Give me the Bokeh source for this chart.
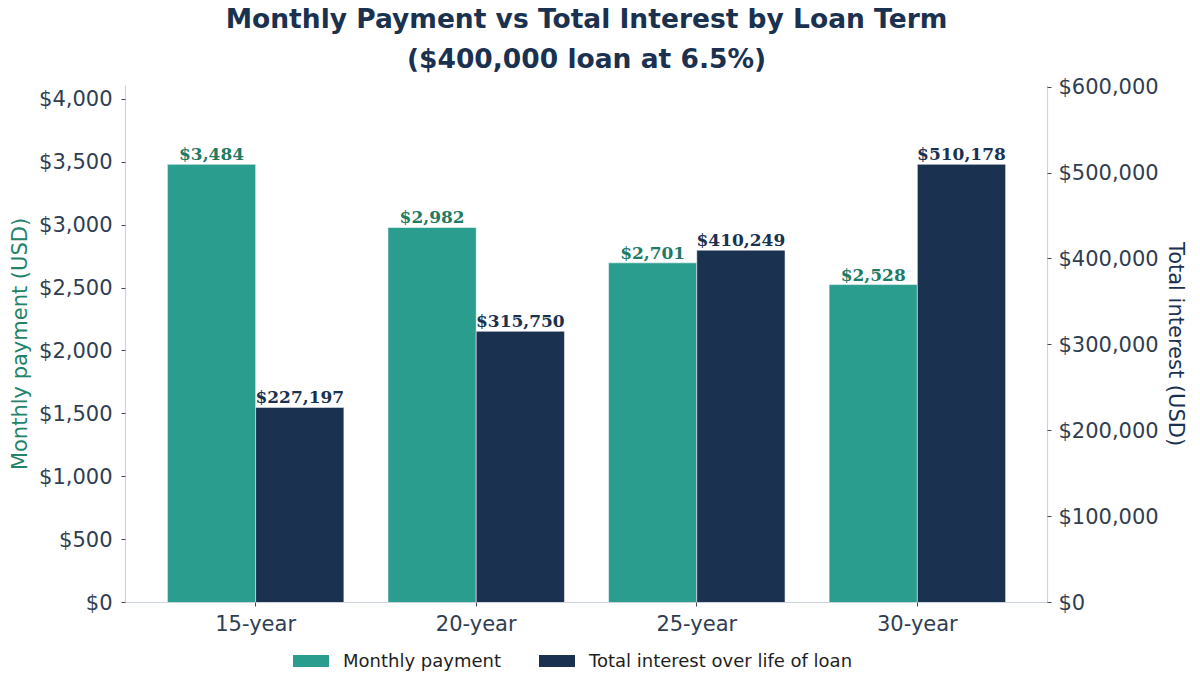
from bokeh.core.properties import value
from bokeh.embed import file_html
from bokeh.layouts import column
from bokeh.models import (ColumnDataSource, Div, FixedTicker, LinearAxis,
                          NumeralTickFormatter, Range1d, SingleIntervalTicker, Title)
from bokeh.plotting import figure
from bokeh.resources import INLINE
from bokeh.transform import dodge

# data
terms = ["15-year", "20-year", "25-year", "30-year"]
monthly_payment = [3484, 2982, 2701, 2528]
total_interest = [227197, 315750, 410249, 510178]
series_names = ["Monthly payment", "Total interest over life of loan"]

TEAL = "#2a9d8f"
NAVY = "#1b3150"
TEAL_TEXT = "#1f7b64"
TICK_TEXT = "#2f3e52"
SPINE = "#cdd3dc"

xs = list(range(len(terms)))
source = ColumnDataSource(data=dict(
    x=xs,
    monthly=monthly_payment,
    interest=total_interest,
    monthly_label=["${:,}".format(v) for v in monthly_payment],
    interest_label=["${:,}".format(v) for v in total_interest],
))

p = figure(frame_width=922, frame_height=517, output_backend="svg", toolbar_location=None,
           x_range=Range1d(-0.59, len(terms) - 1 + 0.59),
           y_range=Range1d(0, max(monthly_payment) * 1.18),
           min_border_left=125, min_border_right=137, min_border_top=84, min_border_bottom=10,
           y_axis_location=None)
p.extra_y_ranges = {"interest": Range1d(0, max(total_interest) * 1.18)}
p.outline_line_color = None
p.xgrid.visible = False
p.ygrid.visible = False

# two title lines; the one added later sits nearer the plot
p.title.text = "Monthly Payment vs Total Interest by Loan Term"
p.title.align = "center"
p.title.vertical_align = "bottom"
p.title.text_font = "DejaVu Sans"
p.title.text_font_size = "26.5px"
p.title.text_line_height = 1.0
p.title.text_color = "#1a3150"
p.title.text_font_style = "bold"
p.title.standoff = 0
p.add_layout(Title(text="($400,000 loan at 6.5%)", align="center", vertical_align="top",
                   text_font="DejaVu Sans", text_font_size="26.5px", text_line_height=1.0,
                   text_color="#1a3150", text_font_style="bold", standoff=19), "above")

r1 = p.vbar(x=dodge("x", -0.2), top="monthly", width=0.4, source=source,
            fill_color=TEAL, line_color="white", line_width=0.5)
r2 = p.vbar(x=dodge("x", 0.2), top="interest", width=0.4, source=source,
            y_range_name="interest", fill_color=NAVY, line_color="white", line_width=0.5)

p.text(x=dodge("x", -0.2), y="monthly", text="monthly_label", source=source,
       text_align="center", text_baseline="bottom", y_offset=0,
       text_font=value("DejaVu Serif"), text_font_style="bold",
       text_font_size="17px", text_color=TEAL_TEXT)
p.text(x=dodge("x", 0.2), y="interest", text="interest_label", source=source,
       y_range_name="interest", text_align="center", text_baseline="bottom", y_offset=0,
       text_font=value("DejaVu Serif"), text_font_style="bold",
       text_font_size="17px", text_color=NAVY)


def style_axis(ax):
    ax.axis_line_color = SPINE
    ax.axis_line_width = 1.2
    ax.major_tick_line_color = "#3d4b5c"
    ax.major_tick_in = 0
    ax.major_tick_out = 4
    ax.minor_tick_line_color = None
    ax.major_label_text_font = "DejaVu Sans"
    ax.major_label_text_font_size = "21px"
    ax.major_label_text_color = TICK_TEXT
    ax.major_label_standoff = 7
    ax.axis_label_text_font = "DejaVu Sans"
    ax.axis_label_text_font_size = "21px"
    ax.axis_label_text_font_style = "normal"
    ax.axis_label_standoff = 4


left = LinearAxis(axis_label="Monthly payment (USD)",
                  ticker=SingleIntervalTicker(interval=500),
                  formatter=NumeralTickFormatter(format="$0,0"))
style_axis(left)
left.major_label_standoff = 9
left.axis_label_text_color = "#23836a"
p.add_layout(left, "left")

right = LinearAxis(axis_label="Total interest (USD)", y_range_name="interest",
                   ticker=SingleIntervalTicker(interval=100000),
                   formatter=NumeralTickFormatter(format="$0,0"))
style_axis(right)
right.axis_label_standoff = 2
right.axis_label_text_color = NAVY
p.add_layout(right, "right")

xaxis = p.xaxis[0]
xaxis.ticker = FixedTicker(ticks=xs)
xaxis.major_label_overrides = {i: t for i, t in zip(xs, terms)}
style_axis(xaxis)
xaxis.major_label_standoff = 5

# legend row under the chart
swatch = ("display:inline-block;width:36px;height:12px;background:{};"
          "margin-right:14px;margin-left:{}px")
legend_html = (
    "<div style=\"display:flex;align-items:center;font-family:'DejaVu Sans';"
    "font-size:18px;color:#1e1e1e;padding-left:288px;height:36px\">"
    "<span style=\"{}\"></span><span>{}</span>"
    "<span style=\"{}\"></span><span>{}</span></div>"
).format(swatch.format(TEAL, 0), series_names[0], swatch.format(NAVY, 38), series_names[1])
legend_div = Div(text=legend_html, width=1184, height=38)

layout = column(p, legend_div, spacing=0)

open("out.html", "w").write(file_html(layout, INLINE))
